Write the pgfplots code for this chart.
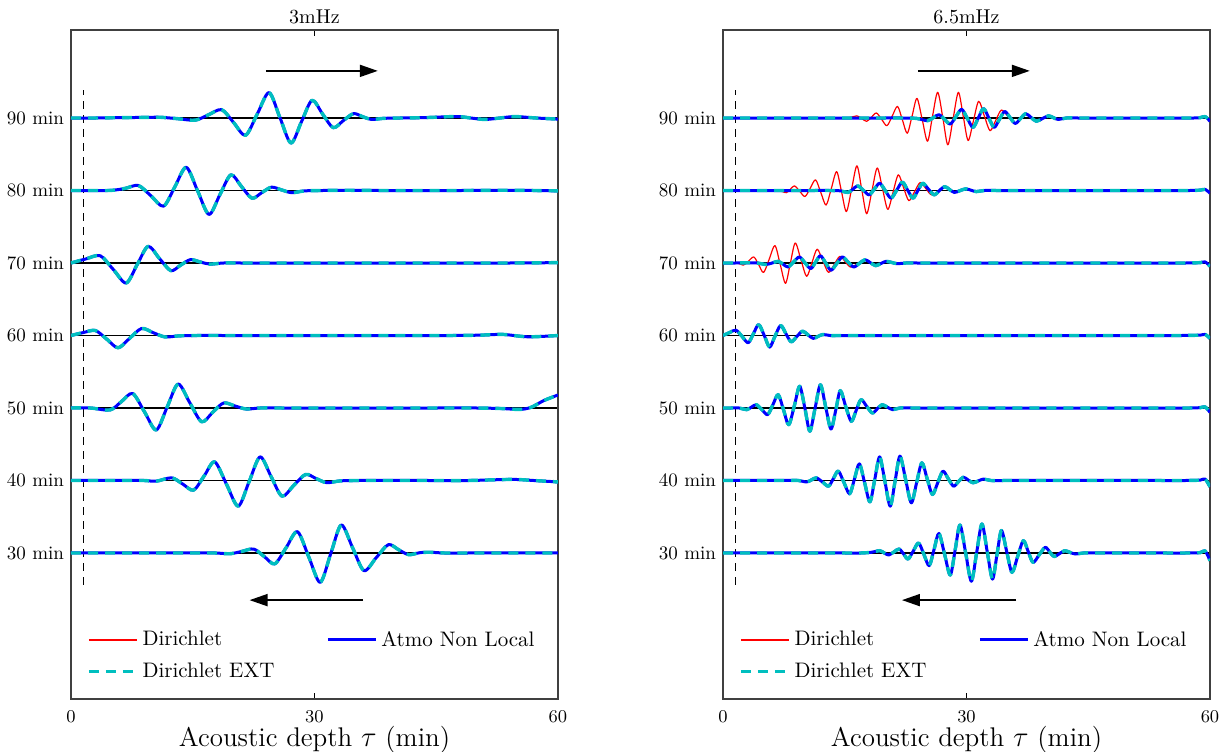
\documentclass[border=0pt]{standalone}
\usepackage{pgfplots}
\pgfplotsset{compat=1.18}
\usepackage{pgfplotstable}
\usetikzlibrary{arrows.meta}
\definecolor{cyanc}{rgb}{0,0.75,0.75}

% ---------------- 3 mHz (left panel) ----------------
\pgfplotstableread{
x a
0 0
3 0
6 0.05
9 0.08
11 0.1
13.2 -0.1
15.3 -0.3
16.9 0.42
18.56 1.15
20.03 -0.62
21.5 -2.39
22.95 0.55
24.4 3.5
25.75 0.03
27.1 -3.45
28.4 -0.5
29.7 2.44
31.0 0.55
32.3 -1.33
33.55 -0.36
34.8 0.6
35.9 0.2
37.0 -0.2
38.5 -0.05
40.5 0
43.5 0.05
47.5 0.2
49.25 0
51.0 -0.2
52.85 0
54.7 0.2
57.3 0
60 -0.15
}\Lnin
\pgfplotstableread{
x a
0 0
2.5 0
5.0 0.02
6.7 0.3
8.3 0.69
9.85 -0.73
11.4 -2.16
12.8 0.52
14.2 3.2
15.6 -0.05
17.0 -3.3
18.35 -0.57
19.7 2.16
21.0 0.55
22.3 -1.06
23.5 -0.3
24.7 0.46
25.95 0.08
27.2 -0.3
28.8 -0.05
31 0
34 0.03
38 0
43 0
48 0
53 0.03
57 0
60 -0.05
}\Leig
\pgfplotstableread{
x a
0 0
1.8 0.55
3.6 1.0
5.2 -0.88
6.8 -2.76
8.15 -0.23
9.5 2.3
10.9 0.62
12.3 -1.06
13.5 -0.3
14.7 0.46
15.9 0.15
17.1 -0.15
18.8 0
21 0
25 0
30 0
36 0
42 0
48 0
54 0
60 0.05
}\Lsev
\pgfplotstableread{
x a
0 0
1.5 0.4
3.0 0.69
4.4 -0.5
5.8 -1.7
7.25 -0.36
8.7 0.97
10.15 0.38
11.6 -0.2
13.3 -0.05
15.5 0
19 0
24 0
30 0
36 0
42 0
47 0
50.5 0.05
53.2 0.15
56.3 -0.18
60 0
}\Lsix
\pgfplotstableread{
x a
0 0
2.4 0
4.8 -0.27
6.2 0.87
7.6 2.0
9.05 -0.52
10.5 -3.03
11.85 0.14
13.2 3.3
14.65 0.7
16.1 -1.9
17.45 -0.6
18.8 0.69
20.2 0.28
21.6 -0.14
23.3 0
26 0
30 0
35 0
40 0
45 0
50 0
53.2 -0.08
55.3 -0.2
56.7 0.1
58.2 1.0
59.2 1.45
60 1.8
}\Lfif
\pgfplotstableread{
x a
0 0
3 0
6 0
9 0
10.5 -0.1
12.4 0.37
13.75 -0.48
15.1 -1.33
16.4 0.62
17.7 2.57
19.15 -0.49
20.6 -3.54
21.95 -0.14
23.3 3.26
24.65 0.55
26.0 -2.16
27.45 -0.67
28.9 0.83
30.2 0.27
31.5 -0.3
33.2 -0.05
35.5 0
39 0
44 0
49 0
54.3 0.15
57 0
60 -0.2
}\Lfor
\pgfplotstableread{
x a
0 0
4 0
8 0
12 0
15.5 0
17.8 0
19.6 -0.1
21.05 0.22
22.5 0.55
23.8 -0.48
25.1 -1.5
26.5 0.72
27.9 2.94
29.3 -0.56
30.7 -4.05
32.0 -0.1
33.3 3.86
34.7 0.71
36.1 -2.44
37.6 -0.65
39.1 1.15
40.35 0.46
41.6 -0.23
43 0.05
44.3 0.1
46 0
49 0
53 0
57 0
60 0
}\Lthi

% ---------------- 6.5 mHz (right panel) ----------------
\pgfplotstableread{
x a
0 0
4 0
8 0
12 0
16 0
19.5 0
22 0
23.8 -0.05
25.2 -0.37
25.9 0.05
26.6 0.46
27.3 -0.19
28.0 -0.83
28.7 0.19
29.4 1.2
30.1 -0.05
30.8 -1.3
31.45 0
32.1 1.3
32.75 0
33.4 -1.3
34.05 -0.2
34.7 0.9
35.35 0.08
36.0 -0.75
36.65 -0.08
37.3 0.6
37.95 0.08
38.6 -0.45
39.35 -0.08
40.1 0.3
40.7 0.05
41.3 -0.2
42.3 0
43.8 0
46 0
49.5 0
53 0
56 0
58 0
58.8 0.05
59.4 0.2
60 -0.46
}\Bnin
\pgfplotstableread{
x a
0 0
4 0
8 0
12 0
14.3 0
15.6 0.05
16.5 0.3
17.1 -0.08
17.7 -0.46
18.3 0.12
18.9 0.69
19.55 -0.19
20.2 -1.06
20.85 0.27
21.5 1.6
22.1 -0.25
22.7 -2.1
23.3 0.3
23.9 2.7
24.55 -0.25
25.2 -3.2
25.8 0.17
26.45 3.54
27.1 -0.08
27.7 -3.7
28.35 -0.08
29.0 3.54
29.6 0.22
30.2 -3.1
30.85 -0.4
31.5 2.3
32.2 0.28
32.9 -1.75
33.6 -0.33
34.3 1.1
35.15 0.17
36.0 -0.75
36.65 -0.08
37.3 0.6
37.95 0.08
38.6 -0.45
39.35 -0.08
40.1 0.3
40.7 0.05
41.3 -0.2
42.3 0
43.8 0
46 0
49.5 0
53 0
56 0
58 0
58.8 0.05
59.4 0.2
60 -0.46
}\Rnin
\pgfplotstableread{
x a
0 0
4 0
8 0
11 0
13.2 0
14.5 -0.05
15.4 -0.27
16.0 0.18
16.6 0.64
17.3 0.02
18.0 -0.6
18.65 0.2
19.3 1.0
20.0 -0.03
20.7 -1.06
21.4 0.05
22.1 1.15
22.75 0.05
23.4 -1.06
24.0 -0.03
24.6 1.0
25.3 0.2
26.0 -0.6
26.65 -0.02
27.3 0.55
27.9 0.14
28.5 -0.27
29.2 -0.02
29.9 0.23
30.55 0.04
31.2 -0.15
32.2 0
33.7 0
36 0
39.5 0
43.5 0
47.5 0
51.5 0
55 0
57.5 0
58.8 0.05
59.4 0.15
60 -0.37
}\Beig
\pgfplotstableread{
x a
0 0
2.5 0
5 0
6.8 0
7.8 -0.3
8.3 0.17
8.8 0.64
9.45 -0.1
10.1 -0.83
10.75 0.32
11.4 1.47
12.05 -0.27
12.7 -2.0
13.35 0.3
14.0 2.6
14.6 -0.15
15.2 -2.9
15.85 0.25
16.5 3.4
17.1 0.1
17.7 -3.2
18.35 -0.05
19.0 3.1
19.65 0.25
20.3 -2.6
20.95 -0.22
21.6 2.16
22.25 0.38
22.9 -1.4
23.6 -0.15
24.3 1.1
25.0 0.25
25.7 -0.6
26.65 -0.02
27.3 0.55
27.9 0.14
28.5 -0.27
29.2 -0.02
29.9 0.23
30.55 0.04
31.2 -0.15
32.2 0
33.7 0
36 0
39.5 0
43.5 0
47.5 0
51.5 0
55 0
57.5 0
58.8 0.05
59.4 0.15
60 -0.37
}\Reig
\pgfplotstableread{
x a
0 0
1.5 0
3 0.03
4.2 0
5.3 -0.2
6.05 0
6.8 0.23
7.4 -0.16
8.0 -0.55
8.7 0.14
9.4 0.83
10.1 0.03
10.8 -0.78
11.4 0.11
12.0 1.0
12.65 0
13.3 -1.0
14.0 -0.09
14.7 0.83
15.4 0.14
16.1 -0.55
16.8 -0.05
17.5 0.46
18.15 0.05
18.8 -0.37
19.45 -0.07
20.1 0.23
20.8 0.07
21.5 -0.1
22.5 0
24 0
26.5 0
30 0
35 0
40 0
45 0
50 0
54 0
57 0
58.8 0.05
59.4 0.15
60 -0.46
}\Bsev
\pgfplotstableread{
x a
0 0
0.8 0
1.7 0.05
2.5 -0.3
3.15 0.27
3.8 0.83
4.4 -0.24
5.0 -1.3
5.7 0.55
6.4 2.4
7.05 -0.2
7.7 -2.8
8.3 0
8.9 2.76
9.6 0.46
10.3 -1.84
10.95 0.03
11.6 1.9
12.3 0.3
13.0 -1.3
13.7 -0.19
14.4 0.92
15.05 0.19
15.7 -0.55
16.6 -0.1
17.5 0.46
18.15 0.05
18.8 -0.37
19.45 -0.07
20.1 0.23
20.8 0.07
21.5 -0.1
22.5 0
24 0
26.5 0
30 0
35 0
40 0
45 0
50 0
54 0
57 0
58.8 0.05
59.4 0.15
60 -0.46
}\Rsev
\pgfplotstableread{
x a
0 0
0.8 0.4
1.6 0.74
2.35 -0.13
3.1 -1.0
3.75 0.25
4.4 1.5
5.1 -0.05
5.75 -1.6
6.4 -0.11
7.1 1.38
7.75 0.25
8.4 -0.87
9.1 -0.13
9.8 0.6
10.45 0.1
11.1 -0.4
11.7 -0.13
12.3 0.14
13.2 0
14.5 0
16.5 0
19.5 0
24 0
30 0
36 0
42 0
48 0
53 0
56.5 0
58.8 0.05
59.4 0.15
60 -0.4
}\Bsix
\pgfplotstableread{
x a
0 0
1 0
2.0 0
2.9 -0.23
3.5 0.12
4.1 0.46
4.8 -0.23
5.5 -0.92
6.15 0.46
6.8 1.84
7.45 -0.23
8.1 -2.3
8.8 0.35
9.45 3.0
10.1 -0.1
10.7 -3.2
11.35 0
12.0 3.2
12.65 0.15
13.3 -2.9
13.9 -0.25
14.45 2.4
15.1 0.28
15.8 -1.84
16.4 -0.35
17.0 1.15
17.7 0.23
18.4 -0.69
19.0 -0.12
19.6 0.46
20.25 0.12
20.9 -0.23
21.8 0
23.2 0
25.5 0
29 0
34 0
40 0
46 0
51 0
55 0
57.5 0
58.8 0.05
59.4 0.15
60 -0.6
}\Bfif
\pgfplotstableread{
x a
0 0
3 0
6 0
8 0
9.3 0
10.3 -0.2
10.9 0.08
11.5 0.37
12.25 -0.2
13.0 -0.78
13.6 0.26
14.2 1.3
14.9 -0.27
15.6 -1.84
16.2 0.23
16.8 2.3
17.45 -0.32
18.1 -2.94
18.7 0.16
19.3 3.26
19.95 -0.14
20.6 -3.54
21.2 -0.09
21.8 3.36
22.5 0.14
23.2 -3.08
23.85 -0.32
24.5 2.44
25.15 0.26
25.8 -1.93
26.45 -0.32
27.1 1.29
27.75 0.25
28.4 -0.78
29.0 -0.16
29.6 0.46
30.2 0.07
30.8 -0.32
31.45 -0.06
32.1 0.2
33 0
34.5 0
37 0
41 0
45.5 0
50 0
54 0
57 0
58.8 0.05
59.4 0.2
60 -0.87
}\Bfor
\pgfplotstableread{
x a
0 0
4 0
8 0
12 0
15 0
17 0
18.3 0.1
19.3 0.32
19.85 0.02
20.4 -0.28
21.05 0.14
21.7 0.55
22.25 -0.14
22.8 -0.83
23.45 0.28
24.1 1.38
24.75 -0.19
25.4 -1.75
26.0 0.48
26.6 2.7
27.3 -0.17
28.0 -3.04
28.6 0.41
29.2 3.86
29.9 -0.02
30.6 -3.9
31.25 0.05
31.9 4.0
32.55 0.2
33.2 -3.6
33.75 -0.25
34.3 3.1
34.95 0.22
35.6 -2.67
36.3 -0.49
37.0 1.7
37.6 0.2
38.2 -1.3
38.95 -0.26
39.7 0.78
40.25 0.14
40.8 -0.5
41.45 -0.09
42.1 0.32
42.75 0.09
43.4 -0.14
44.4 0
46 0
48.5 0
51.5 0
54.5 0
57 0
58.8 0.05
59.4 0.3
60 -1.06
}\Bthi

\newcommand{\tr}[3]{\addplot[#1] table[x=x, y expr=\thisrow{a}+#3] {#2};}

\pgfplotsset{
  redl/.style={red, line width=0.6pt, smooth, line join=round, forget plot},
  bluel/.style={blue, line width=1.5pt, smooth, line join=round, forget plot},
  cyanl/.style={cyanc, line width=1.7pt, dash pattern=on 5pt off 3.5pt, smooth, line join=round, forget plot},
  panel/.style={
    scale only axis, width=243.5pt, height=334.5pt,
    xmin=0, xmax=60, ymin=9.86, ymax=102.14,
    xtick={0,30,60}, ytick={30,40,50,60,70,80,90},
    yticklabels={30 min,40 min,50 min,60 min,70 min,80 min,90 min},
    tick align=inside, major tick length=3pt,
    tick style={black, line width=0.5pt},
    ymajorgrids, grid style={black, line width=0.6pt},
    axis line style={black!75, line width=0.8pt},
    ticklabel style={font=\fontsize{9.5}{11}\selectfont},
    xticklabel style={yshift=-2.5pt},
    xlabel={Acoustic depth $\tau$ (min)},
    xlabel style={font=\fontsize{13.5}{16}\selectfont,
      at={(axis description cs:0.5,0)}, anchor=center, yshift=-20.5pt},
    title style={font=\fontsize{10}{12}\selectfont, yshift=-6.5pt},
    legend columns=2,
    legend cell align=left,
    legend image code/.code={\draw[##1] (0pt,0pt) -- (24pt,0pt);},
    legend style={at={(0.02,0.015)}, anchor=south west, draw=none, fill=none,
      font=\fontsize{10.5}{12}\selectfont, row sep=3pt,
      /tikz/every even column/.append style={column sep=24pt}},
  }
}

\begin{document}
\begin{tikzpicture}
% ---------- left panel ----------
\begin{axis}[panel, title={3mHz}]
\addlegendimage{draw=red, line width=0.7pt}
\addlegendentry{Dirichlet}
\addlegendimage{draw=blue, line width=1.5pt}
\addlegendentry{Atmo Non Local}
\addlegendimage{draw=cyanc, line width=1.7pt, dash pattern=on 5pt off 3.5pt}
\addlegendentry{Dirichlet EXT}
\addplot[black, line width=0.5pt, dash pattern=on 4pt off 3pt, forget plot] coordinates {(1.5,25.6) (1.5,93.9)};
\tr{redl}{\Lnin}{90}
\tr{redl}{\Leig}{80}
\tr{redl}{\Lsev}{70}
\tr{redl}{\Lsix}{60}
\tr{redl}{\Lfif}{50}
\tr{redl}{\Lfor}{40}
\tr{redl}{\Lthi}{30}
\tr{bluel}{\Lnin}{90}
\tr{bluel}{\Leig}{80}
\tr{bluel}{\Lsev}{70}
\tr{bluel}{\Lsix}{60}
\tr{bluel}{\Lfif}{50}
\tr{bluel}{\Lfor}{40}
\tr{bluel}{\Lthi}{30}
\tr{cyanl}{\Lnin}{90}
\tr{cyanl}{\Leig}{80}
\tr{cyanl}{\Lsev}{70}
\tr{cyanl}{\Lsix}{60}
\tr{cyanl}{\Lfif}{50}
\tr{cyanl}{\Lfor}{40}
\tr{cyanl}{\Lthi}{30}
\draw[line width=0.9pt, -{Triangle[length=9pt, width=6pt]}] (axis cs:24,96.5) -- (axis cs:37.8,96.5);
\draw[line width=0.9pt, -{Triangle[length=9pt, width=6pt]}] (axis cs:36,23.5) -- (axis cs:22,23.5);
\end{axis}
% ---------- right panel ----------
\begin{axis}[panel, title={6.5mHz}, at={(326pt,0pt)}, anchor=south west]
\addlegendimage{draw=red, line width=0.7pt}
\addlegendentry{Dirichlet}
\addlegendimage{draw=blue, line width=1.5pt}
\addlegendentry{Atmo Non Local}
\addlegendimage{draw=cyanc, line width=1.7pt, dash pattern=on 5pt off 3.5pt}
\addlegendentry{Dirichlet EXT}
\addplot[black, line width=0.5pt, dash pattern=on 4pt off 3pt, forget plot] coordinates {(1.5,25.6) (1.5,93.9)};
\tr{redl}{\Rnin}{90}
\tr{redl}{\Reig}{80}
\tr{redl}{\Rsev}{70}
\tr{redl}{\Bsix}{60}
\tr{redl}{\Bfif}{50}
\tr{redl}{\Bfor}{40}
\tr{redl}{\Bthi}{30}
\tr{bluel}{\Bnin}{90}
\tr{bluel}{\Beig}{80}
\tr{bluel}{\Bsev}{70}
\tr{bluel}{\Bsix}{60}
\tr{bluel}{\Bfif}{50}
\tr{bluel}{\Bfor}{40}
\tr{bluel}{\Bthi}{30}
\tr{cyanl}{\Bnin}{90}
\tr{cyanl}{\Beig}{80}
\tr{cyanl}{\Bsev}{70}
\tr{cyanl}{\Bsix}{60}
\tr{cyanl}{\Bfif}{50}
\tr{cyanl}{\Bfor}{40}
\tr{cyanl}{\Bthi}{30}
\draw[line width=0.9pt, -{Triangle[length=9pt, width=6pt]}] (axis cs:24,96.5) -- (axis cs:37.8,96.5);
\draw[line width=0.9pt, -{Triangle[length=9pt, width=6pt]}] (axis cs:36.1,23.5) -- (axis cs:22.05,23.5);
\end{axis}
\pgfresetboundingbox
\path (-35.5pt,-26pt) rectangle (576.5pt,349.5pt);
\end{tikzpicture}
\end{document}
